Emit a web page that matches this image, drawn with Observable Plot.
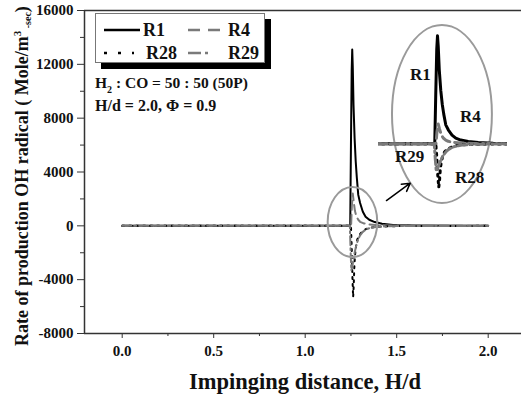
<!DOCTYPE html>
<html><head><meta charset="utf-8">
<script src="https://cdn.jsdelivr.net/npm/d3@7"></script>
<script src="https://cdn.jsdelivr.net/npm/@observablehq/plot@0.6"></script>
<style>
body{margin:0;background:#fff;}
#wrap{position:relative;width:521px;height:397px;overflow:hidden;}
#wrap svg{position:absolute;left:0;top:0;}
#legend{position:absolute;left:95px;top:13px;width:170px;height:50px;box-sizing:border-box;border:1px solid #777;background:#fff;box-shadow:6px 6px 0 #000;}
#legend svg{position:absolute;left:0;top:0;}
</style></head><body><div id="wrap"></div>
<script>
// ---- data ----
const xR1  = [0, 1.0, 1.24, 1.246, 1.25, 1.254, 1.257, 1.26, 1.264, 1.27, 1.276, 1.282, 1.29, 1.3, 1.315, 1.33, 1.35, 1.38, 1.42, 1.48, 1.6, 2.0];
const yR1  = [0, 0, 0, 50, 6000, 11500, 13100, 11800, 9000, 6500, 4800, 3600, 2300, 1700, 1050, 680, 450, 280, 150, 60, 20, 0];
const xR4  = [0, 1.0, 1.245, 1.25, 1.255, 1.26, 1.265, 1.272, 1.28, 1.29, 1.3, 1.32, 1.35, 1.4, 1.5, 2.0];
const yR4  = [0, 0, 0, -300, 1500, 2400, 1800, 1100, 700, 450, 300, 180, 100, 50, 20, 0];
const xR28 = [0, 1.0, 1.25, 1.254, 1.258, 1.262, 1.265, 1.268, 1.272, 1.278, 1.285, 1.295, 1.31, 1.33, 1.36, 1.42, 1.5, 2.0];
const yR28 = [0, 0, 0, -1500, -3800, -5300, -4500, -3200, -2200, -1500, -1000, -700, -450, -250, -120, -50, -20, 0];
const xR29 = [0, 1.0, 1.244, 1.248, 1.252, 1.256, 1.26, 1.27, 1.28, 1.29, 1.3, 1.315, 1.33, 1.36, 1.4, 1.5, 2.0];
const yR29 = [0, 0, 0, -1800, -3300, -3100, -2800, -2000, -1400, -1000, -700, -450, -280, -130, -60, -20, 0];
const seriesNames = ["R1", "R4", "R28", "R29"];
const xTicks = [0, 0.5, 1.0, 1.5, 2.0];
const xMinor = [0.25, 0.75, 1.25, 1.75];
const yTicks = [-8000, -4000, 0, 4000, 8000, 12000, 16000];
const yMinor = [-6000, -2000, 2000, 6000, 10000, 14000];
const xTitle = "Impinging distance, H/d";
const yTitle = ["Rate of production OH radical ( Mole/m", "3", " ", "-sec", ")"];
const note1 = ["H", "2", " : CO = 50 : 50 (50P)"];
const note2 = "H/d = 2.0, Φ = 0.9";
// annotation shapes in data units
const ellipses = [{cx: 1.261, cy: 250, rx: 0.1355, ry: 2600}, {cx: 1.75, cy: 8270, rx: 0.273, ry: 6610}];
const arrowData = [{x1: 1.444, y1: 1880, x2: 1.574, y2: 3170}];

const toRows = (xs, ys) => xs.map((x, i) => ({x, y: ys[i]}));
const R1 = toRows(xR1, yR1), R4 = toRows(xR4, yR4), R28 = toRows(xR28, yR28), R29 = toRows(xR29, yR29);

const styles = {
  R1: {stroke: "#000", strokeWidth: 2},
  R4: {stroke: "#7a7a7a", strokeWidth: 2, strokeDasharray: "9,5"},
  R28: {stroke: "#000", strokeWidth: 2, strokeDasharray: "2,5"},
  R29: {stroke: "#7a7a7a", strokeWidth: 2, strokeDasharray: "9,3,2,3"}
};
const font = "Liberation Serif";
const axisFont = {fontFamily: font, fontSize: 15, fontWeight: "bold"};

function ellipseMark(list) {
  return (index, scales) => {
    const g = d3.create("svg:g");
    for (const e of list) {
      const cx = scales.x(e.cx), cy = scales.y(e.cy);
      const rx = Math.abs(scales.x(e.cx + e.rx) - cx), ry = Math.abs(scales.y(e.cy + e.ry) - cy);
      g.append("ellipse").attr("cx", cx).attr("cy", cy).attr("rx", rx).attr("ry", ry)
        .attr("fill", "none").attr("stroke", "#9a9a9a").attr("stroke-width", 2);
    }
    return g.node();
  };
}

const lineMarks = (extra = {}) => [
  Plot.line(R1, {x: "x", y: "y", ...styles.R1, ...extra}),
  Plot.line(R4, {x: "x", y: "y", ...styles.R4, ...extra}),
  Plot.line(R28, {x: "x", y: "y", ...styles.R28, ...extra}),
  Plot.line(R29, {x: "x", y: "y", ...styles.R29, ...extra})
];

const main = Plot.plot({
  width: 521, height: 397,
  marginLeft: 84, marginRight: 0, marginTop: 10, marginBottom: 64,
  x: {domain: [-0.206, 2.182]},
  y: {domain: [-8000, 16000]},
  style: {fontFamily: font, fontSize: "15px", fontWeight: "bold", color: "#111", background: "transparent", overflow: "visible"},
  marks: [
    Plot.axisY({ticks: yTicks, tickSize: 7, tickPadding: 4, tickFormat: d => String(d), label: null, stroke: "#333", ...axisFont}),
    Plot.axisY({ticks: yMinor, tickSize: 4, tickFormat: () => "", label: null, stroke: "#333"}),
    Plot.axisX({ticks: xTicks, tickSize: 5, tickPadding: 7, tickFormat: d => d.toFixed(1), label: null, stroke: "#333", ...axisFont}),
    Plot.axisX({ticks: xMinor, tickSize: 3, tickFormat: () => "", label: null, stroke: "#333"}),
    Plot.ruleY([16000, -8000], {stroke: "#333", strokeWidth: 1.5}),
    Plot.ruleX([-0.206], {stroke: "#333", strokeWidth: 1.5}),
    ...lineMarks(),
    ellipseMark(ellipses),
    Plot.arrow(arrowData, {x1: "x1", y1: "y1", x2: "x2", y2: "y2", stroke: "#000", strokeWidth: 1.5, headLength: 9})
  ]
});

const inset = Plot.plot({
  width: 145, height: 185,
  marginLeft: 8, marginRight: 8, marginTop: 12, marginBottom: 4,
  x: {domain: [1.021, 1.537], axis: null},
  y: {domain: [-7000, 13500], axis: null},
  style: {background: "transparent", overflow: "visible"},
  marks: lineMarks({clip: true, strokeWidth: 3})
});
inset.style.left = "370px"; inset.style.top = "20px";

const wrap = document.getElementById("wrap");
wrap.appendChild(main);
wrap.appendChild(inset);

// overlay texts
const ov = d3.select(wrap).append("svg").attr("width", 521).attr("height", 397)
  .style("font-family", font).style("font-weight", "bold").style("fill", "#111").style("pointer-events", "none");

ov.append("text").attr("x", 305).attr("y", 389).attr("text-anchor", "middle").style("font-size", "22.5px").text(xTitle);
const yt = ov.append("text").attr("transform", "translate(28,176) rotate(-90)").attr("text-anchor", "middle").style("font-size", "18px");
yt.append("tspan").text(yTitle[0]);
yt.append("tspan").attr("dy", -7).style("font-size", "11px").text(yTitle[1]);
yt.append("tspan").attr("dy", 10).style("font-size", "10px").text(yTitle[2] + yTitle[3]);
yt.append("tspan").attr("dy", -3).text(yTitle[4]);

const n1 = ov.append("text").attr("x", 95).attr("y", 88).style("font-size", "15.5px");
n1.append("tspan").text(note1[0]);
n1.append("tspan").attr("dy", 5).style("font-size", "10px").text(note1[1]);
n1.append("tspan").attr("dy", -5).text(note1[2]);
ov.append("text").attr("x", 95).attr("y", 111).style("font-size", "16px").text(note2);

const insetLabels = [["R1", 410, 80], ["R4", 460, 122], ["R29", 395, 162], ["R28", 455, 183]];
for (const [t, x, y] of insetLabels) ov.append("text").attr("x", x).attr("y", y).style("font-size", "17px").text(t);

// legend
const lg = d3.select(wrap).append("div").attr("id", "legend");
const ls = lg.append("svg").attr("width", 170).attr("height", 50).style("font-family", font).style("font-weight", "bold");
const legendItems = [
  {name: "R1", x1: 8, x2: 44, y: 16, tx: 47, dash: null, stroke: "#000"},
  {name: "R4", x1: 92, x2: 124, y: 16, tx: 132, dash: "12,8", stroke: "#7a7a7a"},
  {name: "R28", x1: 8, x2: 38, y: 39, tx: 50, dash: "3,11", stroke: "#000"},
  {name: "R29", x1: 92, x2: 113, y: 39, tx: 132, dash: "13,4,3,4", stroke: "#7a7a7a"}
];
for (const it of legendItems) {
  ls.append("line").attr("x1", it.x1).attr("x2", it.x2).attr("y1", it.y).attr("y2", it.y)
    .attr("stroke", it.stroke).attr("stroke-width", 2.5).attr("stroke-dasharray", it.dash);
  ls.append("text").attr("x", it.tx).attr("y", it.y + 6).style("font-size", "18px").style("fill", "#111").text(it.name);
}
</script></body></html>
